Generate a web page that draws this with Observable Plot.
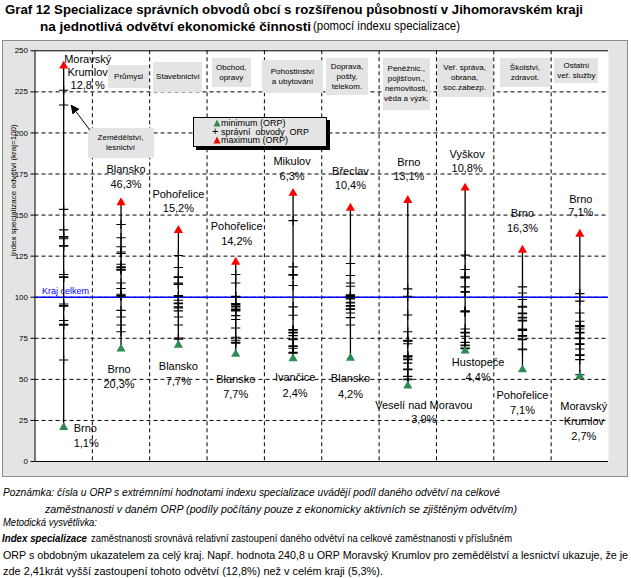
<!DOCTYPE html>
<html><head><meta charset="utf-8">
<script src="https://cdn.jsdelivr.net/npm/d3@7"></script>
<script src="https://cdn.jsdelivr.net/npm/@observablehq/plot@0.6"></script>
<style>
html,body{margin:0;padding:0}
body{width:631px;height:578px;position:relative;background:#fff;font-family:"Liberation Sans",Arial,sans-serif;overflow:hidden;color:#000}
.abs{position:absolute;white-space:nowrap;line-height:1}
#frame{position:absolute;left:2px;top:40px;width:624px;height:435px;border:1px solid #8c8c8c;background:#e4e4e4}
#chart{position:absolute;left:0;top:40px}
.box{position:absolute;background:#e4e4e4;font-size:8px;line-height:10px;text-align:center;display:flex;align-items:center;justify-content:center;white-space:pre}
#legend{position:absolute;left:193px;top:117px;width:132px;height:27px;background:#e4e4e4;border:1px solid #000;box-shadow:3px 3px 0 #000;font-size:9px;line-height:8.6px;padding-top:1px}
#legend div{display:flex;align-items:center;padding-left:19px;position:relative}
#legend svg{position:absolute;left:19px}
.note{font-style:italic;font-size:11px}
</style></head><body>
<div id="t1" class="abs" style="left:5px;top:3px;font-size:13px;font-weight:bold">Graf 12 Specializace správních obvodů obcí s rozšířenou působností v Jihomoravském kraji</div>
<div id="t2a" class="abs" style="left:40px;top:20px;font-size:13px;font-weight:bold">na jednotlivá odvětví ekonomické činnosti</div>
<div id="t2b" class="abs" style="left:313px;top:20px;font-size:12px">(pomocí indexu specializace)</div>
<div id="frame"></div>
<div id="chart"></div>
<div id="boxes"></div>
<div id="legend">
 <div><svg width="8" height="8" style="left:19px"><polygon points="4,0.5 7.5,7.5 0.5,7.5" fill="#2e8b57"/></svg><span style="margin-left:8px">minimum (ORP)</span></div>
 <div><span style="position:absolute;left:18px;font-size:11px;top:-1px">+</span><span style="margin-left:8px">správní&nbsp;&nbsp;obvody&nbsp;&nbsp;ORP</span></div>
 <div><svg width="8" height="8" style="left:19px"><polygon points="4,0.5 7.5,7.5 0.5,7.5" fill="#ff0000"/></svg><span style="margin-left:8px">maximum (ORP)</span></div>
</div>
<svg id="arrowSvg" width="631" height="578" style="position:absolute;left:0;top:0;pointer-events:none"></svg>
<div id="n1" class="abs note" style="left:3px;top:487px">Poznámka: čísla u ORP s extrémními hodnotami indexu specializace uvádějí podíl daného odvětví na celkové</div>
<div id="n2" class="abs note" style="left:45px;top:504px">zaměstnanosti v daném ORP (podíly počítány pouze z ekonomicky aktivních se zjištěným odvětvím)</div>
<div id="n3" class="abs note" style="left:3px;top:517px">Metodická vysvětlivka:</div>
<div id="n4a" class="abs" style="left:2px;top:533px;font-size:11px;font-weight:bold;font-style:italic">Index specializace</div>
<div id="n4b" class="abs" style="left:91px;top:533px;font-size:11px">zaměstnanosti srovnává relativní zastoupení daného odvětví na celkové zaměstnanosti v příslušném</div>
<div id="n5" class="abs" style="left:3px;top:550px;font-size:11px">ORP s obdobným ukazatelem za celý kraj. Např. hodnota 240,8 u ORP Moravský Krumlov pro zemědělství a lesnictví ukazuje, že je</div>
<div id="n6" class="abs" style="left:3px;top:566px;font-size:11px">zde 2,41krát vyšší zastoupení tohoto odvětví (12,8%) než v celém kraji (5,3%).</div>
<script>
// ---------- data ----------
const categories = ["Zemědělství, lesnictví","Průmysl","Stavebnictví","Obchod, opravy","Pohostinství a ubytování","Doprava, pošty, telekom.","Peněžnictví, pojišťovnictví, nemovitosti, věda a výzkum","Veř. správa, obrana, soc. zabezp.","Školství, zdravotnictví","Ostatní veř. služby"];
const categoryBoxText = ["Zemědělství,\nlesnictví","Průmysl","Stavebnictví","Obchod,\nopravy","Pohostinství\na ubytování","Doprava,\npošty,\ntelekom.","Peněžnic.,\npojišťovn.,\nnemovitosti,\nvěda a výzk.","Veř. správa,\nobrana,\nsoc.zabezp.","Školství,\nzdravot.","Ostatní\nveř. služby"];
const minValues = [20.8, 68.5, 70.9, 65.4, 62.6, 63.0, 46.1, 67.3, 55.9, 51.8];
const maxValues = [240.8, 157.6, 140.7, 121.4, 163.3, 154.3, 159.0, 166.5, 128.7, 138.4];
const orpValues = [
  [226, 217, 153.5, 141, 137, 136.5, 135.6, 131.5, 113.8, 112.4, 112, 95.9, 94.9, 94.5, 85.8, 83.5, 83, 61.8, 131],
  [144.3, 136.2, 130.7, 127.5, 126.6, 120.1, 118.5, 116.9, 116.5, 108.7, 105.3, 101.8, 101, 100.6, 92, 88, 83.1, 79, 118],
  [125.4, 118.1, 112.4, 108.7, 107.9, 101, 100.5, 98.2, 96.1, 94.1, 93.5, 91.7, 88, 83.1, 75.2, 74.5, 96.5, 112, 108],
  [113.8, 108.7, 100.6, 96.1, 95.5, 94.1, 92.5, 92, 91.6, 88.8, 86.4, 81.3, 75.6, 73.8, 72.5, 72, 92.8, 94.6, 100.2],
  [146.6, 118.5, 113.8, 107.1, 94.1, 89, 80.3, 78.2, 76.6, 74.6, 74.2, 70.5, 70, 68.9, 66.4, 66, 113.4, 78.6, 80],
  [120.5, 113.2, 108.7, 106.7, 101, 100.5, 99, 96.9, 94.9, 92.9, 92.5, 90.4, 87.6, 83.1, 100.2, 96.5, 94.5, 101.4, 99.4],
  [105.1, 100.6, 89.2, 79, 73.8, 73.4, 71.7, 64, 63.6, 61.9, 59.9, 55.9, 51.8, 49.8, 64.4, 73.2, 62.3, 56.3, 50.2],
  [125.6, 116.9, 112.4, 111.8, 106.3, 103.5, 103, 91.7, 91.3, 80.7, 78.2, 76.2, 72.5, 70.9, 69.1, 68.7, 78.6, 91, 70.5],
  [106.3, 102.6, 98.6, 94.5, 94, 90.4, 87.8, 86, 80.3, 79.8, 76.6, 74.2, 68.5, 68, 87.4, 90, 76.2, 80.7, 85.6],
  [102.2, 97.6, 90.4, 85.4, 82.7, 82.3, 80.7, 78.2, 75.2, 74.8, 71.7, 68.5, 65, 62, 52.8, 82, 78.6, 71.3, 64.6]
];
const maxLabels = [["Moravský","Krumlov","12,8 %"],["Blansko","46,3%"],["Pohořelice","15,2%"],["Pohořelice","14,2%"],["Mikulov","6,3%"],["Břeclav","10,4%"],["Brno","13,1%"],["Vyškov","10,8%"],["Brno","16,3%"],["Brno","7,1%"]];
const minLabels = [["Brno","1,1%"],["Brno","20,3%"],["Blansko","7,7%"],["Blansko","7,7%"],["Ivančice","2,4%"],["Blansko","4,2%"],["Veselí nad Moravou","3,9%"],["Hustopeče","4,4%"],["Pohořelice","7,1%"],["Moravský","Krumlov","2,7%"]];
const regionValue = 100;
const regionLabel = "Kraj celkem";
const yTicks = [0, 25, 50, 75, 100, 125, 150, 175, 200, 225, 250];
const yTitle = "Index specializace odvětví (kraj=100)";
const legendLabels = ["minimum (ORP)", "správní obvody ORP", "maximum (ORP)"];

// ---------- layout (pixels) ----------
const maxLabelLayout = [[24,-6,12.7],[5,-33,15],[0,-36,14.5],[1,-36,15],[-1,-32,15],[0,-37,14.5],[1,-38,14.5],[2,-34,14.5],[0,-37,15],[1,-35,13.5]];
const minLabelLayout = [[10,1.6,14.4],[-2,20.6,15],[0,21.3,15],[0,25.6,15],[2,18.7,15.7],[0,20,16],[16,20,14],[13,11.3,15],[0,25.7,15.3],[4,30,15]];
// category boxes: [dx from centre, top, width, height]
const boxLayout = [[0,128,66,30],[8,65,41,23],[0,62,49,30],[-4,58,39,29],[0,60,61,33],[-3,58,42,37],[-1,58,47,52],[0,58,56,39],[3,58,50,29],[-3,58,44,25]];

const green = "#2e8b57", red = "#ff0000";
const cols = categories.map((c, i) => ({cat: c, pos: i + 0.5, min: minValues[i], max: maxValues[i]}));
const orp = orpValues.flatMap((vals, i) => vals.map(v => ({pos: i + 0.5, v})));

const labelMarks = [];
function addLabels(lines, i, v, lay, anchor) {
  lines.forEach((t, k) => {
    labelMarks.push(Plot.text([{pos: i + 0.5, v, t}], {x: "pos", y: "v", text: "t", dx: lay[0], dy: lay[1] + k * lay[2], fontSize: 11, fill: "#000", textAnchor: anchor}));
  });
}
maxLabels.forEach((l, i) => addLabels(l, i, maxValues[i], maxLabelLayout[i], "middle"));
minLabels.forEach((l, i) => addLabels(l, i, minValues[i], minLabelLayout[i], i === 0 ? "start" : "middle"));

const plot = Plot.plot({
  width: 631, height: 437,
  marginLeft: 34.5, marginRight: 23, marginTop: 10.3, marginBottom: 16,
  x: {domain: [0, categories.length], axis: null},
  y: {domain: [0, 250], axis: null},
  style: {background: "transparent", overflow: "visible", fontFamily: "'Liberation Sans', Arial, sans-serif"},
  marks: [
    Plot.frame({fill: "white", stroke: null}),
    Plot.ruleY(yTicks.filter(v => v > 0 && v < 250), {stroke: "#000", strokeDasharray: "4,3", strokeWidth: 1}),
    Plot.ruleX(d3.range(1, categories.length), {stroke: "#000", strokeDasharray: "4,3", strokeWidth: 1}),
    Plot.ruleY([regionValue], {stroke: "#0000ff", strokeWidth: 1.5}),
    Plot.text([regionLabel], {frameAnchor: "left", y: regionValue, dx: 7, dy: -6, text: d => d, fill: "#0000ff", fontSize: 9, textAnchor: "start"}),
    Plot.ruleY([0, 250], {stroke: "#000", strokeWidth: 1}),
    Plot.ruleX([0], {stroke: "#000", strokeWidth: 1}),
    Plot.axisY({ticks: yTicks, tickSize: 4, tickPadding: 3, fontSize: 8, label: null, tickFormat: d => d}),
    Plot.text([yTitle], {frameAnchor: "left", dx: -22, rotate: -90, text: d => d, fontSize: 8, fill: "#000"}),
    Plot.ruleX(cols, {x: "pos", y1: "min", y2: "max", stroke: "#000", strokeWidth: 1.3}),
    Plot.dot(orp, {x: "pos", y: "v", symbol: "plus", r: 3.1, stroke: "#000", strokeWidth: 1.1}),
    Plot.dot(cols, {x: "pos", y: "min", symbol: "triangle", r: 3.4, fill: green, stroke: null}),
    Plot.dot(cols, {x: "pos", y: "max", symbol: "triangle", r: 3.4, fill: red, stroke: null}),
    ...labelMarks
  ]
});
document.getElementById("chart").appendChild(plot);

// category boxes positioned through the x scale
const xs = plot.scale("x"), ys = plot.scale("y");
const boxes = document.getElementById("boxes");
categoryBoxText.forEach((t, i) => {
  const [dx, top, w, h] = boxLayout[i];
  const cx = xs.apply(i + 0.5) + dx + (i === 0 ? xs.apply(1.5) - xs.apply(0.5) : 0);
  const d = document.createElement("div");
  d.className = "box";
  d.style.left = (cx - w / 2) + "px"; d.style.top = top + "px";
  d.style.width = w + "px"; d.style.height = h + "px";
  d.textContent = t;
  boxes.appendChild(d);
});
// arrow from first box to first column
const aSvg = d3.select("#arrowSvg");
aSvg.append("defs").append("marker").attr("id","ah").attr("viewBox","0 0 10 10").attr("refX",9).attr("refY",5)
  .attr("markerWidth",9).attr("markerHeight",9).attr("orient","auto-start-reverse")
  .append("path").attr("d","M0,0 L10,5 L0,10 z").attr("fill","#000");
const x1 = xs.apply(1.0) - 2, y1 = ys.apply(201.5) + 40;
const x2 = xs.apply(0.64), y2 = ys.apply(216.5) + 40;
aSvg.append("line").attr("x1",x1).attr("y1",y1).attr("x2",x2).attr("y2",y2).attr("stroke","#000").attr("stroke-width",1).attr("marker-end","url(#ah)");

// fit text widths to reference
function fit(id, w) {
  const el = document.getElementById(id);
  const r = el.getBoundingClientRect().width;
  el.style.transformOrigin = "0 0";
  el.style.transform = `scaleX(${w / r})`;
}
fit("t1", 578); fit("t2a", 271); fit("t2b", 147);
fit("n1", 497); fit("n2", 472); fit("n3", 94); fit("n4a", 85); fit("n4b", 421); fit("n5", 625); fit("n6", 380);
</script>
</body></html>
